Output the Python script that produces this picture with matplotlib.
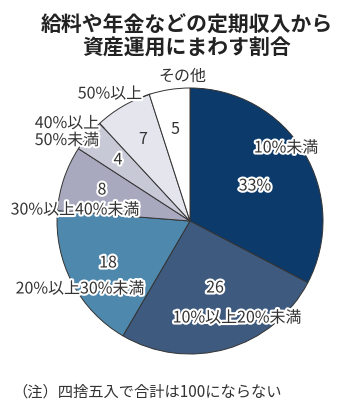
import matplotlib
matplotlib.use("Agg")
import matplotlib.pyplot as plt
import matplotlib.patheffects as pe

plt.rcParams['font.family'] = ['Noto Sans CJK JP', 'DejaVu Sans']

categories = ["10%未満", "10%以上20%未満", "20%以上30%未満", "30%以上40%未満",
              "40%以上\n50%未満", "50%以上", "その他"]
values = [33, 26, 18, 8, 4, 7, 5]
value_labels = ["33%", "26", "18", "8", "4", "7", "5"]
colors = ["#0c3a6b", "#3e5a7f", "#4e88ad", "#a8a9be", "#c8c9d6", "#e5e5ee", "#ffffff"]

W, H = 355, 409
fig = plt.figure(figsize=(W / 100, H / 100), dpi=100)
ax = fig.add_axes([0, 0, 1, 1])

cx, cy, r = 190, H - 221, 133
ax.pie(values, colors=colors, startangle=90, counterclock=False,
       center=(cx, cy), radius=r, frame=True,
       wedgeprops=dict(edgecolor="#333333", linewidth=0.7))
ax.set_xlim(0, W)
ax.set_ylim(0, H)
ax.set_aspect('equal')
ax.axis('off')

halo = [pe.withStroke(linewidth=3, foreground="white")]
tc = "#333333"
fs = 11.5

def put(x, y, s, ha="center", size=fs, effects=True):
    ax.text(x, H - y, s, ha=ha, va="center", fontsize=size, color=tc,
            path_effects=halo if effects else None, linespacing=1.0)

# category labels
put(286, 148, categories[0])
put(237, 318, categories[1])
put(80, 289, categories[2])
put(75, 210, categories[3])
put(67, 132, categories[4])
put(110, 94, categories[5])
put(182, 76, categories[6], effects=False)

# value labels
put(255, 186, value_labels[0])
put(215, 288, value_labels[1])
put(108, 263, value_labels[2])
put(102, 190, value_labels[3])
put(118, 160, value_labels[4])
put(143, 140, value_labels[5], effects=False)
put(175, 130, value_labels[6], effects=False)

# short leader lines
ax.plot([143, 150], [H - 97, H - 94], color="#333333", lw=0.7)
ax.plot([100, 104], [H - 124, H - 128], color="#333333", lw=0.7)

# title
fig.text(0.527, 1 - 25 / H, "給料や年金などの定期収入から", ha="center", va="center",
         fontsize=15, fontweight="bold", color="#222222")
fig.text(0.527, 1 - 48 / H, "資産運用にまわす割合", ha="center", va="center",
         fontsize=15, fontweight="bold", color="#222222")

# footnote
fig.text(12 / W, 1 - 392 / H, "（注）四捨五入で合計は100にならない", ha="left", va="center",
         fontsize=11, color="#333333")

fig.savefig("out.png", dpi=100, facecolor="white")
